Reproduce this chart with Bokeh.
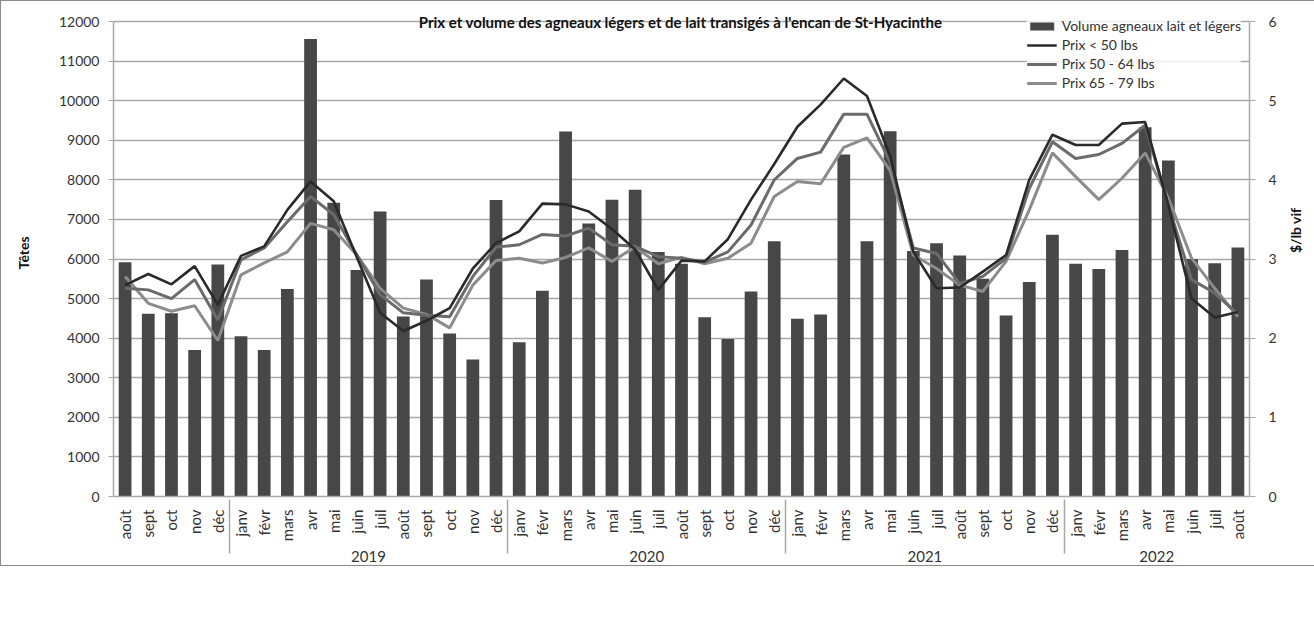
import math
from bokeh.plotting import figure
from bokeh.models import (FactorRange, Range1d, LinearAxis, Legend, LegendItem,
                          Label, FixedTicker, ColumnDataSource)
from bokeh.embed import file_html
from bokeh.resources import INLINE

# ---------------- data ----------------
years = ["", "2019", "2020", "2021", "2022"]
months_2018 = ["août", "sept", "oct", "nov", "déc"]
months_full = ["janv", "févr", "mars", "avr", "mai", "juin", "juil",
               "août", "sept", "oct", "nov", "déc"]
months_2022 = ["janv", "févr", "mars", "avr", "mai", "juin", "juil", "août"]

volume = [5920, 4620, 4630, 3700, 5860,
          4050, 3700, 5240, 11560, 7420, 5720, 7200, 4550, 5480, 4120, 3460, 7490,
          3900, 5200, 9220, 6900, 7500, 7750, 6180, 5880, 4530, 3980, 5180, 6450,
          4490, 4600, 8640, 6450, 9230, 6200, 6400, 6090, 5500, 4570, 5420, 6610,
          5880, 5750, 6230, 9330, 8490, 6000, 5890, 6290]

prix_lt50 = [2.67, 2.81, 2.68, 2.91, 2.42,
             3.04, 3.16, 3.62, 3.98, 3.73, 3.02, 2.32, 2.09, 2.22, 2.38, 2.88, 3.20,
             3.35, 3.70, 3.69, 3.60, 3.38, 3.12, 2.61, 2.98, 2.97, 3.25, 3.75, 4.20,
             4.67, 4.95, 5.28, 5.06, 4.30, 3.09, 2.63, 2.64, 2.84, 3.05, 4.00, 4.57,
             4.44, 4.44, 4.71, 4.73, 3.68, 2.50, 2.26, 2.33]

prix_50_64 = [2.63, 2.61, 2.50, 2.74, 2.23,
              2.99, 3.14, 3.47, 3.79, 3.56, 3.05, 2.55, 2.32, 2.29, 2.27, 2.78, 3.15,
              3.18, 3.31, 3.29, 3.39, 3.18, 3.16, 3.03, 3.01, 2.96, 3.09, 3.43, 4.00,
              4.27, 4.35, 4.83, 4.83, 4.22, 3.14, 3.07, 2.69, 2.78, 3.01, 3.89, 4.48,
              4.27, 4.32, 4.46, 4.69, 3.68, 2.74, 2.57, 2.30]

prix_65_79 = [2.78, 2.44, 2.34, 2.41, 1.97,
              2.80, 2.95, 3.09, 3.45, 3.37, 3.05, 2.63, 2.38, 2.30, 2.13, 2.67, 2.98,
              3.01, 2.95, 3.02, 3.14, 2.97, 3.15, 2.94, 3.02, 2.94, 3.01, 3.20, 3.79,
              3.98, 3.95, 4.41, 4.53, 4.12, 3.05, 2.88, 2.67, 2.59, 2.97, 3.62, 4.34,
              4.04, 3.75, 4.02, 4.34, 3.77, 3.01, 2.63, 2.27]

left_ticks = list(range(0, 12001, 1000))
right_ticks = [0, 1, 2, 3, 4, 5, 6]

# ---------------- build ----------------
factors = ([(years[0], m) for m in months_2018] +
           [(years[1], m) for m in months_full] +
           [(years[2], m) for m in months_full] +
           [(years[3], m) for m in months_full] +
           [(years[4], m) for m in months_2022])

src = ColumnDataSource(dict(x=factors, vol=volume, a=prix_lt50, b=prix_50_64, c=prix_65_79))

FONT = "Lato"
TXT = "#333333"
GRID = "#a8a8a8"

FRAME_H = 487
PLOT_H = 475
ymax_left = left_ticks[-1] * FRAME_H / PLOT_H
ymax_right = right_ticks[-1] * FRAME_H / PLOT_H

p = figure(frame_width=1136, frame_height=FRAME_H, output_backend="svg", toolbar_location=None,
           x_range=FactorRange(*factors, range_padding=0, group_padding=0, factor_padding=0),
           y_range=Range1d(0, ymax_left),
           min_border_left=112, min_border_right=66, min_border_top=8, min_border_bottom=0)
p.extra_y_ranges = {"price": Range1d(0, ymax_right)}
p.outline_line_color = None
p.background_fill_color = "white"
p.border_fill_color = "white"
p.styles = {"border": "1px solid #8a8a8a"}

bars = p.vbar(x="x", top="vol", width=0.55, source=src, fill_color="#474747", line_color=None)
l3 = p.line(x="x", y="c", source=src, y_range_name="price", line_color="#8c8c8c", line_width=3)
l2 = p.line(x="x", y="b", source=src, y_range_name="price", line_color="#6b6b6b", line_width=3)
l1 = p.line(x="x", y="a", source=src, y_range_name="price", line_color="#2a2a2a", line_width=2.6)

p.xgrid.grid_line_color = None
p.ygrid.grid_line_color = GRID
p.ygrid.grid_line_width = 1.5
p.ygrid.ticker = FixedTicker(ticks=left_ticks)

ya = p.yaxis[0]
ya.ticker = FixedTicker(ticks=left_ticks)
ya.bounds = (0, left_ticks[-1])
ya.axis_label = "Têtes"
ya.axis_label_text_font = FONT
ya.axis_label_text_font_style = "bold"
ya.axis_label_text_font_size = "14px"
ya.axis_label_text_color = "#111111"
ya.axis_label_standoff = 24
ya.major_label_text_font = FONT
ya.major_label_text_font_size = "14px"
ya.major_label_text_color = TXT
ya.major_label_standoff = 9
ya.axis_line_color = GRID
ya.axis_line_width = 1.5
ya.major_tick_line_color = GRID
ya.major_tick_out = 5
ya.major_tick_in = 0
ya.minor_tick_line_color = None

ra = LinearAxis(y_range_name="price", ticker=FixedTicker(ticks=right_ticks))
ra.bounds = (0, right_ticks[-1])
ra.axis_label = "$/lb vif"
ra.axis_label_text_font = FONT
ra.axis_label_text_font_style = "bold"
ra.axis_label_text_font_size = "14px"
ra.axis_label_text_color = "#111111"
ra.axis_label_standoff = 16
ra.major_label_text_font = FONT
ra.major_label_text_font_size = "14px"
ra.major_label_text_color = TXT
ra.major_label_standoff = 13
ra.axis_line_color = GRID
ra.axis_line_width = 1.5
ra.major_tick_line_color = GRID
ra.major_tick_out = 6
ra.major_tick_in = 0
ra.minor_tick_line_color = None
try:
    ra.axis_label_orientation = math.pi / 2
except Exception:
    pass
p.add_layout(ra, "right")

xa = p.xaxis[0]
xa.axis_label = None
xa.major_label_orientation = math.pi / 2
xa.major_label_text_font = FONT
xa.major_label_text_font_size = "15px"
xa.major_label_text_color = TXT
xa.major_label_standoff = 7
xa.group_text_font = FONT
xa.group_text_font_size = "15px"
xa.group_text_color = TXT
xa.group_text_font_style = "normal"
xa.axis_line_color = GRID
xa.axis_line_width = 1.5
xa.major_tick_line_color = None
xa.minor_tick_line_color = None
xa.separator_line_color = GRID
xa.separator_line_width = 1.5

title = Label(x=567, y=left_ticks[-1], x_units="screen", y_units="data",
              text="Prix et volume des agneaux légers et de lait transigés à l'encan de St-Hyacinthe",
              text_font=FONT, text_font_style="bold", text_font_size="15px",
              text_color="#111111", text_align="center", text_baseline="middle")
p.add_layout(title)

legend = Legend(items=[
    LegendItem(label="Volume agneaux lait et légers", renderers=[bars]),
    LegendItem(label="Prix < 50 lbs", renderers=[l1]),
    LegendItem(label="Prix 50 - 64 lbs", renderers=[l2]),
    LegendItem(label="Prix 65 - 79 lbs", renderers=[l3]),
], orientation="vertical", location="top_right")
legend.label_text_font = FONT
legend.label_text_font_size = "14px"
legend.label_text_color = TXT
legend.glyph_width = 30
legend.glyph_height = 10
legend.label_standoff = 5
legend.spacing = 2
legend.border_line_color = None
legend.background_fill_color = "white"
legend.background_fill_alpha = 0.8
legend.padding = 4
legend.margin = 8
p.add_layout(legend, "center")

open("out.html", "w").write(file_html(p, INLINE))
